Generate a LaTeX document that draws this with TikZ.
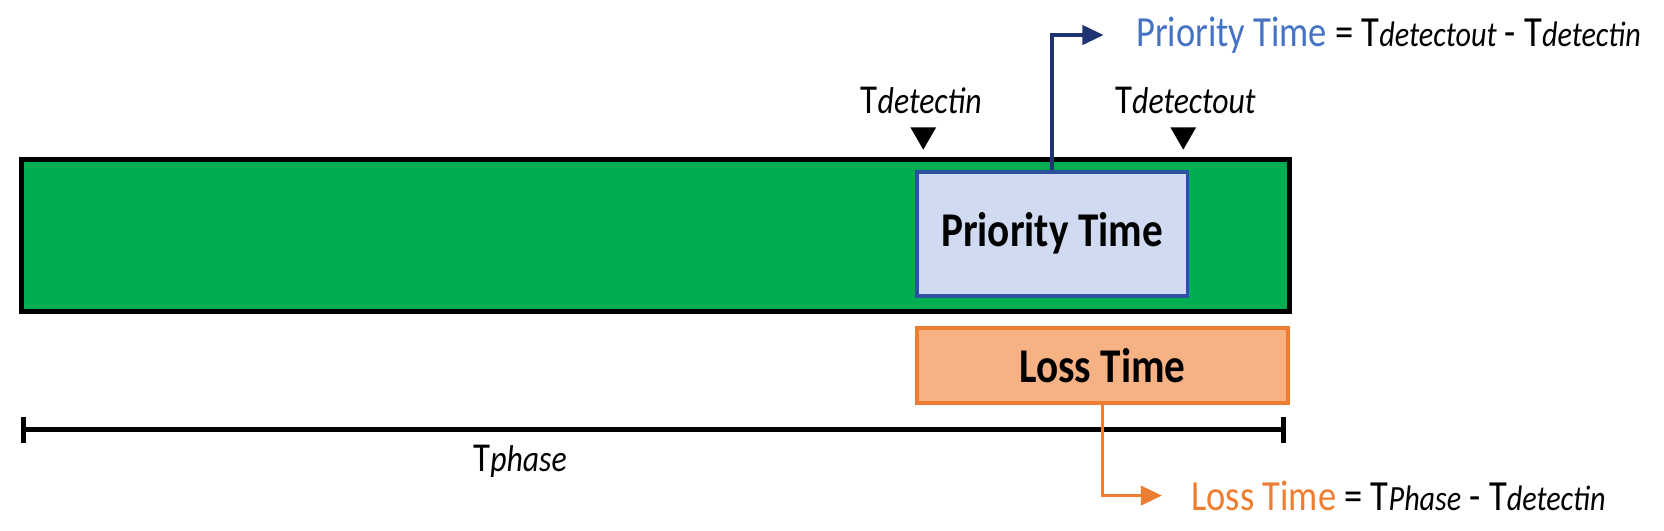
\documentclass[tikz,border=0pt]{standalone}
\usepackage{fontspec}
\setmainfont{Carlito}[FakeStretch=0.85]
\usetikzlibrary{arrows.meta,shapes.geometric}
\definecolor{phasegreen}{RGB}{0,173,80}
\definecolor{prioblue}{RGB}{68,114,196}
\definecolor{prionavy}{RGB}{31,52,112}
\definecolor{prioedge}{RGB}{47,82,160}
\definecolor{priofill}{RGB}{208,218,240}
\definecolor{lossorange}{RGB}{237,125,49}
\definecolor{lossfill}{RGB}{246,178,132}
\newcommand{\Tsub}[2][9.5]{T{\fontsize{#1}{#1}\selectfont\itshape #2}}
\tikzset{
  timebox/.style={draw, anchor=north west, inner sep=0pt, font=\fontsize{13}{15}\selectfont\bfseries},
  pointer/.style={regular polygon, regular polygon sides=3, shape border rotate=180,
    fill=black, inner sep=0pt, minimum size=0.28cm},
  marklbl/.style={inner sep=0pt, font=\fontsize{11}{13}\selectfont},
  formula/.style={anchor=west, inner sep=0pt, font=\fontsize{11.5}{14}\selectfont}
}
\begin{document}
\begin{tikzpicture}[x=0.01cm,y=-0.01cm]
  \useasboundingbox (0,0) rectangle (1568,500);
  \node[timebox, fill=phasegreen, line width=1.3pt, minimum width=11.94cm, minimum height=1.43cm]
    (phase) at (18,148) {};
  \node[timebox, fill=priofill, draw=prioedge, line width=1pt, minimum width=2.55cm,
    minimum height=1.17cm] (prio) at (862,160) {Priority Time};
  \node[timebox, fill=lossfill, draw=lossorange, line width=1pt, minimum width=3.5cm,
    minimum height=0.71cm] (loss) at (862,307) {Loss Time};
  % detect marks
  \node[pointer] (in) at (870,127) {};
  \node[pointer] (out) at (1115,127) {};
  \node[marklbl] (inlbl) at (868,95) {\Tsub[10]{detectin}};
  \node[marklbl] (outlbl) at (1117,95) {\Tsub[10]{detectout}};
  % phase length
  \coordinate (p0) at (20,405);
  \coordinate (p1) at (1212,405);
  \draw[line width=1.3pt, {Bar[width=0.24cm]}-{Bar[width=0.24cm]}] (p0) -- (p1);
  \node[marklbl] (plbl) at (490,435) {\Tsub[10]{phase}};
  % formulas
  \node[formula] (pform) at (1070,33)
    {{\color{prioblue}Priority Time} = \Tsub[9.5]{detectout} - \Tsub[9.5]{detectin}};
  \node[formula] (lform) at (1122,467)
    {{\color{lossorange}Loss Time} = \Tsub[9.5]{Phase} - \Tsub[9.5]{detectin}};
  \begin{scope}[line width=1pt, -{Triangle[length=0.2cm,width=0.18cm]}]
    \draw[prionavy] (prio.north) |- ([xshift=-0.3cm]pform.west);
    \draw[lossorange] (loss.south) |- ([xshift=-0.27cm]lform.west);
  \end{scope}
\end{tikzpicture}
\end{document}
